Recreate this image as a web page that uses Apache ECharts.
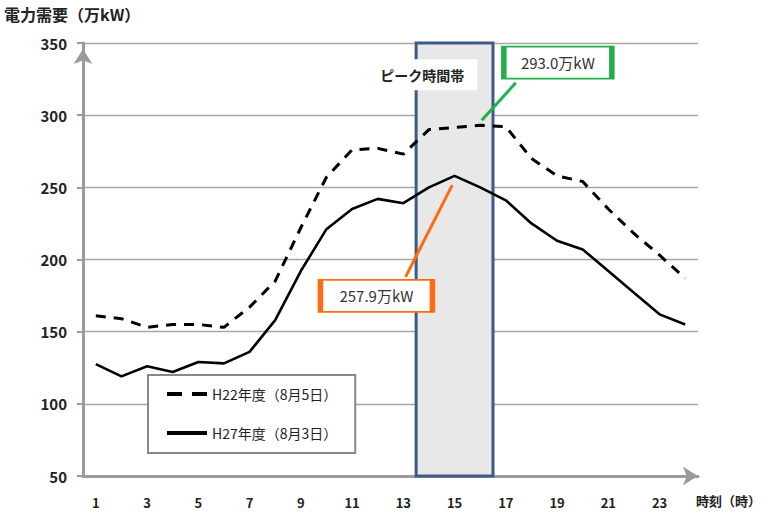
<!DOCTYPE html>
<html>
<head>
<meta charset="utf-8">
<script src="https://cdn.jsdelivr.net/npm/echarts@6/dist/echarts.min.js"></script>
<style>
html,body{margin:0;padding:0;background:#fff;}
#chart{width:764px;height:512px;}
</style>
</head>
<body>
<div id="chart"></div>
<script>
var hours = ['1','2','3','4','5','6','7','8','9','10','11','12','13','14','15','16','17','18','19','20','21','22','23','24'];
var seriesNames = ['H22年度（8月5日）', 'H27年度（8月3日）'];
var h22 = [161, 159, 153, 155, 155, 153, 167, 185, 222, 257, 276, 277, 273, 290, 291.5, 293.0, 292, 270, 258, 254, 235, 218, 203, 187];
var h27 = [127.5, 119, 126, 122, 129, 128, 136, 158, 192, 221, 235, 242, 239, 250, 257.9, 250, 241, 225, 213, 207, 192, 177, 162, 155];
var yTicks = {min: 50, max: 350, interval: 50};
var peakLabel = 'ピーク時間帯';
var peakH22Label = '293.0万kW';
var peakH27Label = '257.9万kW';
var yTitle = '電力需要（万kW）';
var xTitle = '時刻（時）';

var FONT = '"Noto Sans CJK JP", "Noto Sans", sans-serif';
var AXIS_GRAY = '#9a9a9a';

var chart = echarts.init(document.getElementById('chart'), null, {renderer: 'svg'});
chart.setOption({
  animation: false,
  backgroundColor: '#fff',
  textStyle: {fontFamily: FONT},
  title: [
    {text: yTitle, left: 4, top: 6, padding: 0,
     textStyle: {fontFamily: FONT, fontSize: 16, fontWeight: 'bold', color: '#222'}},
    {text: xTitle, left: 696, top: 494, padding: 0,
     textStyle: {fontFamily: FONT, fontSize: 13, fontWeight: 'bold', color: '#222'}}
  ],
  grid: {left: 83, right: 66, top: 43, bottom: 36, containLabel: false},
  legend: {
    data: [
      {name: seriesNames[0], lineStyle: {width: 4, type: [15, 10], color: '#000'}},
      {name: seriesNames[1], lineStyle: {width: 4, type: 'solid', color: '#000'}}
    ],
    orient: 'vertical',
    left: 148, top: 375,
    padding: [12, 18, 13, 17],
    itemGap: 25,
    itemWidth: 40, itemHeight: 14,
    backgroundColor: '#fff',
    borderColor: '#888', borderWidth: 2,
    itemStyle: {color: 'rgba(0,0,0,0)', borderWidth: 0, opacity: 0},
    textStyle: {fontFamily: FONT, fontSize: 14, color: '#222'}
  },
  xAxis: [
    {
      type: 'category', data: hours, boundaryGap: true,
      axisLine: {show: true, lineStyle: {color: AXIS_GRAY, width: 3},
                 symbol: ['none', 'arrow'], symbolSize: [14, 15], symbolOffset: [0, 0]},
      axisTick: {show: false},
      axisLabel: {interval: 1, margin: 20, fontSize: 13, fontWeight: 'bold', color: '#222', fontFamily: FONT},
      splitLine: {show: false}
    },
    {
      type: 'value', min: 0.5, max: 24.5, show: false,
      splitLine: {show: false}
    }
  ],
  yAxis: {
    type: 'value', min: yTicks.min, max: yTicks.max, interval: yTicks.interval,
    axisLine: {show: true, lineStyle: {color: AXIS_GRAY, width: 3},
               symbol: ['none', 'arrow'], symbolSize: [14, 15], symbolOffset: [0, -6]},
    axisTick: {show: true, length: 6, lineStyle: {color: AXIS_GRAY, width: 2}},
    axisLabel: {margin: 16, fontSize: 15, fontWeight: 'bold', color: '#222', fontFamily: FONT},
    splitLine: {show: true, lineStyle: {color: '#a6a6a6', width: 1.3}}
  },
  series: [
    {
      name: 'peak', type: 'line', xAxisIndex: 1, data: [], silent: true, z: 1,
      markArea: {
        silent: true,
        itemStyle: {color: '#e8e8e8', borderColor: '#3e5b87', borderWidth: 3},
        data: [[{xAxis: 13.5, yAxis: 50}, {xAxis: 16.5, yAxis: 350}]]
      }
    },
    {
      name: seriesNames[0], type: 'line', data: h22, symbol: 'none', z: 3,
      lineStyle: {color: '#000', width: 3, type: [10, 8]},
      itemStyle: {color: '#000'}
    },
    {
      name: seriesNames[1], type: 'line', data: h27, symbol: 'none', z: 3,
      lineStyle: {color: '#000', width: 2.6, type: 'solid'},
      itemStyle: {color: '#000'}
    },
    {
      name: 'notes', type: 'line', xAxisIndex: 1, data: [], silent: true, z: 5,
      markLine: {
        silent: true, symbol: ['none', 'none'],
        label: {show: false},
        data: [
          [{coord: [17.39, 322.4], lineStyle: {color: '#21b04b', width: 3, type: 'solid'}},
           {coord: [16.06, 296.5]}],
          [{coord: [13.09, 188.0], lineStyle: {color: '#ff6a13', width: 3, type: 'solid'}},
           {coord: [14.91, 251.5]}]
        ]
      },
      markPoint: {
        silent: true,
        data: [
          {coord: [13.74, 328.0], symbol: 'rect', symbolSize: [110, 31],
           itemStyle: {color: '#fff', borderWidth: 0},
           label: {show: true, position: 'inside', formatter: peakLabel, fontSize: 14, fontWeight: 'bold', color: '#222', fontFamily: FONT}},
          {coord: [19.03, 336.4], symbol: 'rect', symbolSize: [108, 32],
           itemStyle: {color: '#fff', borderColor: '#21b04b', borderWidth: 3},
           label: {show: true, position: 'inside', formatter: peakH22Label, fontSize: 15, color: '#333', fontFamily: FONT}},
          {coord: [11.95, 174.8], symbol: 'rect', symbolSize: [112, 32],
           itemStyle: {color: '#fff', borderColor: '#ff6a13', borderWidth: 3},
           label: {show: true, position: 'inside', formatter: peakH27Label, fontSize: 15, color: '#333', fontFamily: FONT}}
        ]
      }
    }
  ]
});
</script>
</body>
</html>
